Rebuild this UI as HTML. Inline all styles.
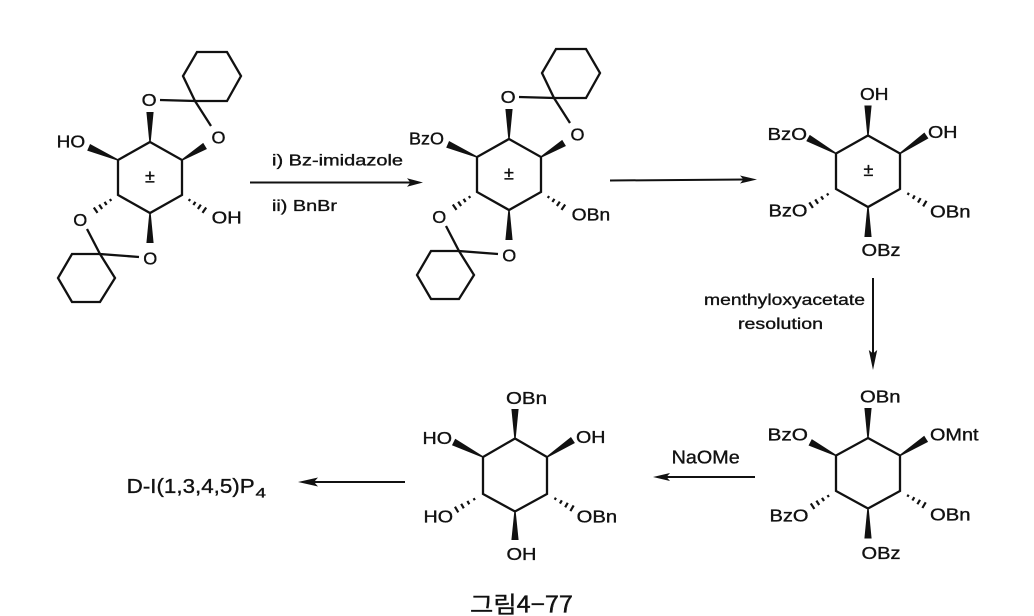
<!DOCTYPE html>
<html><head><meta charset="utf-8"><style>
html,body{margin:0;padding:0;background:#fff;}
svg{display:block;}
text{font-family:"Liberation Sans",Arial,sans-serif;fill:#111;stroke:#111;stroke-width:0.35;}
</style></head><body>
<svg width="1034" height="616" viewBox="0 0 1034 616" xmlns="http://www.w3.org/2000/svg">

<!-- Molecule 1 -->
<g fill="none" stroke="#111" stroke-width="2.3" stroke-linejoin="miter">
<polygon points="150,142 182,160 182,195 150,213 118,195 118,160"/>
<polyline points="160,100 195,101 211,126"/>
<polygon points="195,101 183,76 197,52 227,52 241,76 227,101"/>
<polyline points="139,257 100,254 87,229"/>
<polygon points="100,254 72,254 58,278 72,302 100,302 115,278"/>
</g>
<g fill="#111">
<polygon transform="translate(150,142) rotate(-90)" points="0,-0.7 30,-3.6 30,3.6 0,0.7"/>
<polygon transform="translate(182,160) rotate(-31.3)" points="0,-0.7 27,-3.6 27,3.6 0,0.7"/>
<polygon transform="translate(118,160) rotate(-156.6)" points="0,-0.7 32,-3.6 32,3.6 0,0.7"/>
<polygon transform="translate(150,213) rotate(90)" points="0,-0.7 30,-3.6 30,3.6 0,0.7"/>
</g>
<g stroke="#111" stroke-width="2.2" fill="none">
<path transform="translate(118,195) rotate(145.8)" d="M9,-1.2V1.2M15,-1.9V1.9M21,-2.6V2.6M27,-3.3V3.3"/>
<path transform="translate(182,195) rotate(34.2)" d="M9,-1.2V1.2M15,-1.9V1.9M21,-2.6V2.6M27,-3.3V3.3"/>
</g>
<g font-size="17.5">
<text x="141.7" y="106" textLength="15" lengthAdjust="spacingAndGlyphs">O</text>
<text x="211.5" y="143.5" textLength="14" lengthAdjust="spacingAndGlyphs">O</text>
<text x="73.3" y="226" textLength="14" lengthAdjust="spacingAndGlyphs">O</text>
<text x="143.3" y="264.5" textLength="14" lengthAdjust="spacingAndGlyphs">O</text>
<text x="56.7" y="147.5" textLength="28.5" lengthAdjust="spacingAndGlyphs">HO</text>
<text x="211.7" y="223.5" textLength="30" lengthAdjust="spacingAndGlyphs">OH</text>
</g>
<text x="150" y="182.5" font-size="18" text-anchor="middle">±</text>

<!-- Molecule 2 -->
<g transform="translate(359,-3)">
<g fill="none" stroke="#111" stroke-width="2.3" stroke-linejoin="miter">
<polygon points="150,142 182,160 182,195 150,213 118,195 118,160"/>
<polyline points="160,100 195,101 211,126"/>
<polygon points="195,101 183,76 197,52 227,52 241,76 227,101"/>
<polyline points="139,257 100,254 87,229"/>
<polygon points="100,254 72,254 58,278 72,302 100,302 115,278"/>
</g>
<g fill="#111">
<polygon transform="translate(150,142) rotate(-90)" points="0,-0.7 30,-3.6 30,3.6 0,0.7"/>
<polygon transform="translate(182,160) rotate(-31.3)" points="0,-0.7 27,-3.6 27,3.6 0,0.7"/>
<polygon transform="translate(118,160) rotate(-156.6)" points="0,-0.7 32,-3.6 32,3.6 0,0.7"/>
<polygon transform="translate(150,213) rotate(90)" points="0,-0.7 30,-3.6 30,3.6 0,0.7"/>
</g>
<g stroke="#111" stroke-width="2.2" fill="none">
<path transform="translate(118,195) rotate(145.8)" d="M9,-1.2V1.2M15,-1.9V1.9M21,-2.6V2.6M27,-3.3V3.3"/>
<path transform="translate(182,195) rotate(34.2)" d="M9,-1.2V1.2M15,-1.9V1.9M21,-2.6V2.6M27,-3.3V3.3"/>
</g>
<g font-size="17.5">
<text x="141.7" y="106" textLength="15" lengthAdjust="spacingAndGlyphs">O</text>
<text x="211.5" y="143.5" textLength="14" lengthAdjust="spacingAndGlyphs">O</text>
<text x="73.3" y="226" textLength="14" lengthAdjust="spacingAndGlyphs">O</text>
<text x="143.3" y="264.5" textLength="14" lengthAdjust="spacingAndGlyphs">O</text>
<text x="50" y="147.5" textLength="35" lengthAdjust="spacingAndGlyphs">BzO</text>
<text x="212.7" y="223.5" textLength="38.5" lengthAdjust="spacingAndGlyphs">OBn</text>
</g>
<text x="150" y="182.5" font-size="18" text-anchor="middle">±</text>
</g>

<!-- Molecule 3 -->
<g fill="none" stroke="#111" stroke-width="2.3">
<polygon points="868,135.5 900,153.5 900,189 868,207 836,189 836,153.5"/>
</g>
<g stroke="#111" stroke-width="2.2" fill="none">
<path transform="translate(836,189) rotate(147)" d="M9.9,-1.2V1.2M16.5,-1.9V1.9M23.1,-2.6V2.6M29.7,-3.3V3.3"/>
<path transform="translate(900,189) rotate(30.5)" d="M9.6,-1.2V1.2M16,-1.9V1.9M22.4,-2.6V2.6M28.8,-3.3V3.3"/>
</g>
<g fill="#111">
<polygon transform="translate(868,135.5) rotate(-90)" points="0,-0.7 30,-3.6 30,3.6 0,0.7"/>
<polygon transform="translate(900,153.5) rotate(-34.4)" points="0,-0.7 32,-3.6 32,3.6 0,0.7"/>
<polygon transform="translate(836,153.5) rotate(-151)" points="0,-0.7 32,-3.6 32,3.6 0,0.7"/>
<polygon transform="translate(868,207) rotate(90)" points="0,-0.7 30,-3.6 30,3.6 0,0.7"/>
</g>
<g font-size="17.5">
<text x="860" y="100" textLength="28.5" lengthAdjust="spacingAndGlyphs">OH</text>
<text x="928" y="138" textLength="29.5" lengthAdjust="spacingAndGlyphs">OH</text>
<text x="767.5" y="140" textLength="39.5" lengthAdjust="spacingAndGlyphs">BzO</text>
<text x="768.5" y="216.5" textLength="39" lengthAdjust="spacingAndGlyphs">BzO</text>
<text x="930" y="217.5" textLength="40.5" lengthAdjust="spacingAndGlyphs">OBn</text>
<text x="861.5" y="256" textLength="39" lengthAdjust="spacingAndGlyphs">OBz</text>
</g>
<text x="868.5" y="176" font-size="18" text-anchor="middle">±</text>

<!-- Molecule 4 -->
<g fill="none" stroke="#111" stroke-width="2.3">
<polygon points="868,438 900,455.5 900,491 868,508.5 836,491 836,455.5"/>
</g>
<g stroke="#111" stroke-width="2.2" fill="none">
<path transform="translate(836,491) rotate(147)" d="M9.3,-1.2V1.2M15.5,-1.9V1.9M21.7,-2.6V2.6M27.9,-3.3V3.3"/>
<path transform="translate(900,491) rotate(30.5)" d="M9.3,-1.2V1.2M15.5,-1.9V1.9M21.7,-2.6V2.6M27.9,-3.3V3.3"/>
</g>
<g fill="#111">
<polygon transform="translate(868,438) rotate(-90)" points="0,-0.7 30,-3.6 30,3.6 0,0.7"/>
<polygon transform="translate(900,455.5) rotate(-32.5)" points="0,-0.7 31,-3.6 31,3.6 0,0.7"/>
<polygon transform="translate(836,455.5) rotate(-153)" points="0,-0.7 29,-3.6 29,3.6 0,0.7"/>
<polygon transform="translate(868,508.5) rotate(90)" points="0,-0.7 30,-3.6 30,3.6 0,0.7"/>
</g>
<g font-size="17.5">
<text x="860" y="402.7" textLength="40.5" lengthAdjust="spacingAndGlyphs">OBn</text>
<text x="930" y="440.7" textLength="48.5" lengthAdjust="spacingAndGlyphs">OMnt</text>
<text x="767.5" y="440.7" textLength="40.5" lengthAdjust="spacingAndGlyphs">BzO</text>
<text x="769.5" y="521.7" textLength="39" lengthAdjust="spacingAndGlyphs">BzO</text>
<text x="930" y="520.7" textLength="40.5" lengthAdjust="spacingAndGlyphs">OBn</text>
<text x="861.5" y="559" textLength="39" lengthAdjust="spacingAndGlyphs">OBz</text>
</g>

<!-- Molecule 5 -->
<g fill="none" stroke="#111" stroke-width="2.3">
<polygon points="515,438.5 547,457 547,494 515,511.5 483,494 483,457"/>
</g>
<g stroke="#111" stroke-width="2.2" fill="none">
<path transform="translate(483,494) rotate(149.5)" d="M10.2,-1.2V1.2M17,-1.9V1.9M23.8,-2.6V2.6M30.6,-3.3V3.3"/>
<path transform="translate(547,494) rotate(29.7)" d="M9.6,-1.2V1.2M16,-1.9V1.9M22.4,-2.6V2.6M28.8,-3.3V3.3"/>
</g>
<g fill="#111">
<polygon transform="translate(515,438.5) rotate(-90)" points="0,-0.7 29.5,-3.6 29.5,3.6 0,0.7"/>
<polygon transform="translate(547,457) rotate(-33.2)" points="0,-0.7 31,-3.6 31,3.6 0,0.7"/>
<polygon transform="translate(483,457) rotate(-153)" points="0,-0.7 33,-3.6 33,3.6 0,0.7"/>
<polygon transform="translate(515,511.5) rotate(90)" points="0,-0.7 28.5,-3.6 28.5,3.6 0,0.7"/>
</g>
<g font-size="17.5">
<text x="506" y="404" textLength="41" lengthAdjust="spacingAndGlyphs">OBn</text>
<text x="576" y="443" textLength="29.5" lengthAdjust="spacingAndGlyphs">OH</text>
<text x="422.5" y="444" textLength="29.5" lengthAdjust="spacingAndGlyphs">HO</text>
<text x="423.5" y="522.7" textLength="29.5" lengthAdjust="spacingAndGlyphs">HO</text>
<text x="576.7" y="522.7" textLength="40.5" lengthAdjust="spacingAndGlyphs">OBn</text>
<text x="506.5" y="560" textLength="30" lengthAdjust="spacingAndGlyphs">OH</text>
</g>

<!-- Arrows -->
<g stroke="#111" stroke-width="2" fill="none">
<line x1="250" y1="182.5" x2="412" y2="182.5"/>
<line x1="610" y1="180.5" x2="745" y2="179.5"/>
<line x1="873" y1="278" x2="873" y2="356"/>
<line x1="755" y1="477" x2="664" y2="477"/>
<line x1="405" y1="482" x2="308" y2="482"/>
</g>
<g fill="#111">
<polygon points="423,182.5 407,178.3 410.5,182.5 407,186.7"/>
<polygon points="757,179.5 740,175.5 743.5,179.5 740,183.5"/>
<polygon points="873,370 868.8,350 873,353.5 877.2,350"/>
<polygon points="653,477 670,473 666.5,477 670,481"/>
<polygon points="298,482 318,477.5 314,482 318,486.5"/>
</g>

<!-- Reagent labels -->
<g font-size="16">
<text x="272" y="165.7" textLength="131" lengthAdjust="spacingAndGlyphs">i) Bz-imidazole</text>
<text x="272" y="211" textLength="65" lengthAdjust="spacingAndGlyphs">ii) BnBr</text>
<text x="704" y="305" textLength="161" lengthAdjust="spacingAndGlyphs">menthyloxyacetate</text>
<text x="738" y="329" textLength="85" lengthAdjust="spacingAndGlyphs">resolution</text>
</g>
<text x="671.7" y="463.3" font-size="18.5" textLength="68" lengthAdjust="spacingAndGlyphs">NaOMe</text>
<text x="126.7" y="493" font-size="20.5" textLength="128" lengthAdjust="spacingAndGlyphs">D-I(1,3,4,5)P</text>
<text x="255.5" y="497.5" font-size="14" textLength="10.5" lengthAdjust="spacingAndGlyphs">4</text>

<!-- Caption -->
<text x="470" y="612.5" font-size="23" style="font-family:'Noto Sans CJK KR','Liberation Sans',sans-serif" textLength="103" lengthAdjust="spacingAndGlyphs">그림4−77</text>
</svg>
</body></html>
